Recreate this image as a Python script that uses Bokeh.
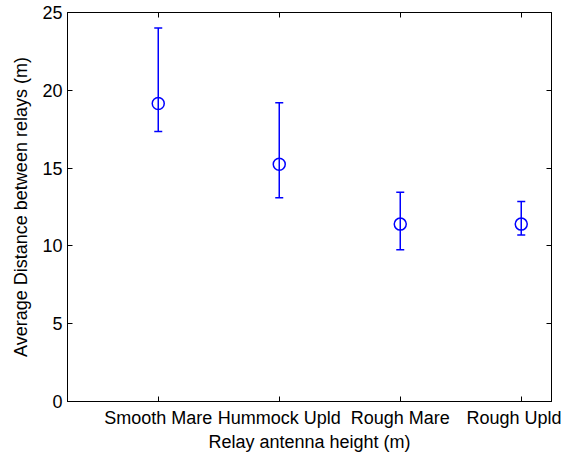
from bokeh.plotting import figure
from bokeh.models import (Range1d, FixedTicker, LinearAxis, Whisker, TeeHead,
                          ColumnDataSource, CustomJSTickFormatter)
from bokeh.embed import file_html
from bokeh.resources import INLINE

categories = ["Smooth Mare", "Hummock Upld", "Rough Mare", "Rough Upld"]
mean_dist = [19.15, 15.25, 11.4, 11.4]
upper_dist = [24.0, 19.2, 13.45, 12.85]
lower_dist = [17.35, 13.1, 9.75, 10.7]
y_ticks = [0, 5, 10, 15, 20, 25]

xpos = list(range(1, len(categories) + 1))
src = ColumnDataSource(dict(x=xpos, y=mean_dist, up=upper_dist, lo=lower_dist))

FONT = "Liberation Sans"
FS = "18px"
BLUE = "#0000ff"

p = figure(frame_width=484, frame_height=389, output_backend="svg",
           toolbar_location=None, x_range=Range1d(0.25, 4.25),
           y_range=Range1d(0, 25), min_border_left=67, min_border_right=10,
           min_border_top=12, min_border_bottom=46)
p.grid.visible = False
p.outline_line_color = "black"
p.outline_line_width = 1
p.background_fill_color = "white"
p.border_fill_color = "white"

w = Whisker(source=src, base="x", upper="up", lower="lo", dimension="height",
            line_color=BLUE, line_width=1.5,
            upper_head=TeeHead(size=8, line_color=BLUE, line_width=1.5),
            lower_head=TeeHead(size=8, line_color=BLUE, line_width=1.5))
p.add_layout(w)
p.scatter("x", "y", source=src, marker="circle", size=12, fill_color=None,
          line_color=BLUE, line_width=1.5)

for ax in (p.xaxis[0], p.yaxis[0]):
    ax.major_tick_in = 5
    ax.major_tick_out = 0
    ax.minor_tick_in = 0
    ax.minor_tick_out = 0
    ax.axis_line_color = "black"
    ax.major_label_text_font = FONT
    ax.major_label_text_font_size = FS
    ax.major_label_text_color = "black"
    ax.axis_label_text_font = FONT
    ax.axis_label_text_font_size = FS
    ax.axis_label_text_font_style = "normal"
    ax.axis_label_text_color = "black"

p.xaxis[0].ticker = FixedTicker(ticks=xpos)
p.xaxis[0].major_label_overrides = {i: c for i, c in zip(xpos, categories)}
p.xaxis[0].axis_label = "Relay antenna height (m)"
p.xaxis[0].major_label_standoff = 6
p.xaxis[0].axis_label_standoff = 1

p.yaxis[0].ticker = FixedTicker(ticks=y_ticks)
p.yaxis[0].axis_label = "Average Distance between relays (m)"
p.yaxis[0].major_label_standoff = 5
p.yaxis[0].axis_label_standoff = 8

blank = CustomJSTickFormatter(code="return ''")
top = LinearAxis(ticker=FixedTicker(ticks=xpos), major_tick_in=5, major_tick_out=0,
                 minor_tick_in=0, minor_tick_out=0, formatter=blank,
                 major_label_standoff=0)
right = LinearAxis(ticker=FixedTicker(ticks=y_ticks), major_tick_in=5, major_tick_out=0,
                   minor_tick_in=0, minor_tick_out=0, formatter=blank,
                   major_label_standoff=0)
p.add_layout(top, "above")
p.add_layout(right, "right")

open("out.html", "w").write(file_html(p, INLINE))
